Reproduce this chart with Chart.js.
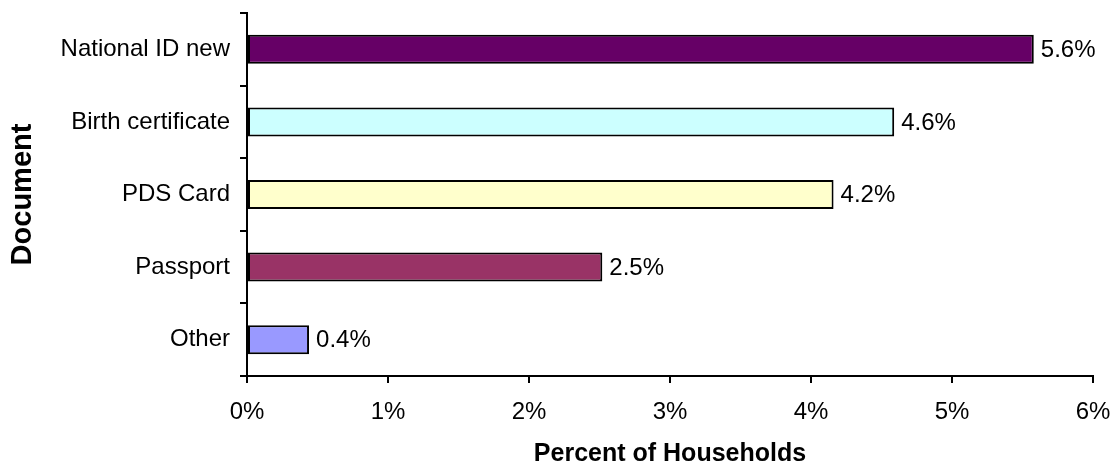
<!DOCTYPE html>
<html>
<head>
<meta charset="utf-8">
<script src="https://cdn.jsdelivr.net/npm/chart.js@4"></script>
<style>
  html, body { margin: 0; padding: 0; background: #fff; }
  #wrap { width: 1112px; height: 463px; }
</style>
</head>
<body>
<div id="wrap"><canvas id="myChart" width="1112" height="463"></canvas></div>
<script>
// data
let documents = ["National ID new", "Birth certificate", "PDS Card", "Passport", "Other"];
let percents = [5.58, 4.59, 4.16, 2.52, 0.44];
let barColors = ["#660066", "#CCFFFF", "#FFFFCC", "#993366", "#9999FF"];
let xTicks = [0, 1, 2, 3, 4, 5, 6];

const font = "'Liberation Sans', Arial, sans-serif";

// value labels at the end of each bar
const barLabels = {
  id: 'barLabels',
  afterDatasetsDraw(chart) {
    const ctx = chart.ctx;
    const meta = chart.getDatasetMeta(0);
    ctx.save();
    ctx.font = `24px ${font}`;
    ctx.fillStyle = '#000';
    ctx.textAlign = 'left';
    ctx.textBaseline = 'middle';
    meta.data.forEach((bar, i) => {
      ctx.fillText(percents[i].toFixed(1) + '%', bar.x + 7, bar.y + 1);
    });
    ctx.restore();
  }
};

let myChart = new Chart(document.getElementById("myChart"), {
  type: 'bar',
  data: {
    labels: documents,
    datasets: [{
      label: "Percent of Households",
      data: percents,
      backgroundColor: barColors,
      borderColor: "#000",
      borderWidth: 2,
      borderSkipped: false,
      categoryPercentage: 1,
      barPercentage: 0.4
    }]
  },
  options: {
    indexAxis: 'y',
    responsive: false,
    animation: false,
    layout: { padding: { top: 13, right: 19, left: 0, bottom: 0 } },
    plugins: {
      legend: { display: false },
      tooltip: { enabled: false }
    },
    scales: {
      x: {
        min: 0,
        max: 6,
        afterBuildTicks: (axis) => { axis.ticks = xTicks.map(v => ({ value: v })); },
        afterFit: (axis) => {
          axis.height = 87;
          axis.paddingLeft = 0;
          axis.paddingRight = 0;
        },
        border: { color: '#000', width: 2 },
        grid: { drawOnChartArea: false, drawTicks: true, tickLength: 7, color: '#000', lineWidth: 2 },
        ticks: {
          color: '#000',
          font: { family: font, size: 24 },
          padding: 15,
          maxRotation: 0,
          callback: (v) => v + '%'
        },
        title: {
          display: true,
          text: 'Percent of Households',
          color: '#000',
          font: { family: font, size: 25, weight: 'bold', lineHeight: 1 },
          padding: { top: 0, bottom: -4 }
        }
      },
      y: {
        afterFit: (axis) => {
          axis.width = 247;
          axis.paddingTop = 0;
          axis.paddingBottom = 0;
        },
        border: { color: '#000', width: 2 },
        grid: { drawOnChartArea: false, drawTicks: true, tickLength: 7, color: '#000', lineWidth: 2, offset: true },
        ticks: {
          color: '#000',
          font: { family: font, size: 24 },
          padding: 10
        },
        title: {
          display: true,
          text: 'Document',
          color: '#000',
          font: { family: font, size: 29, weight: 'bold', lineHeight: 1 },
          padding: { top: 8, bottom: 0 }
        }
      }
    }
  },
  plugins: [barLabels]
});
</script>
</body>
</html>
